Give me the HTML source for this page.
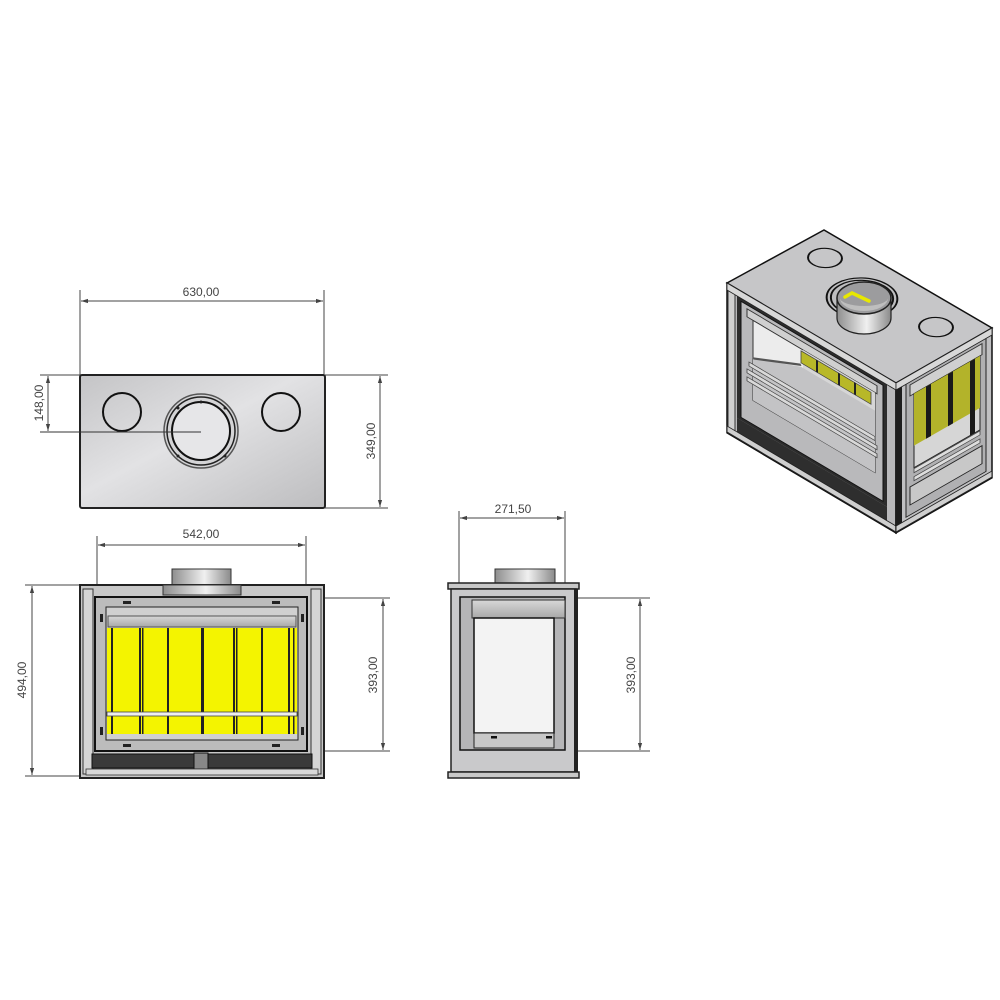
<!DOCTYPE html>
<html><head><meta charset="utf-8"><style>html,body{margin:0;padding:0;background:#fff}svg{display:block}</style></head>
<body>
<svg width="1000" height="1000" viewBox="0 0 1000 1000" xmlns="http://www.w3.org/2000/svg" font-family="Liberation Sans, sans-serif">
<defs>
<linearGradient id="gTop" x1="0" y1="0" x2="1" y2="1"><stop offset="0" stop-color="#c4c4c6"/><stop offset="0.45" stop-color="#e2e2e4"/><stop offset="1" stop-color="#bdbdbf"/></linearGradient>
<linearGradient id="gFlue" x1="0" y1="0" x2="1" y2="0"><stop offset="0" stop-color="#8e8e8e"/><stop offset="0.55" stop-color="#f0f0f0"/><stop offset="1" stop-color="#8a8a8a"/></linearGradient>
<linearGradient id="gBar" x1="0" y1="0" x2="0" y2="1"><stop offset="0" stop-color="#d8d8d8"/><stop offset="1" stop-color="#a8a8a8"/></linearGradient>
<marker id="ar" viewBox="0 0 10 10" refX="10" refY="5" markerWidth="7" markerHeight="7" orient="auto-start-reverse"><path d="M0,2 L10,5 L0,8 z" fill="#444"/></marker>
</defs>
<g stroke="#444" stroke-width="1" fill="none">
<!-- top view dims -->
<line x1="80" y1="290" x2="80" y2="376"/><line x1="324" y1="290" x2="324" y2="376"/>
<line x1="81" y1="301" x2="323" y2="301" marker-start="url(#ar)" marker-end="url(#ar)"/>
<line x1="40" y1="375" x2="80" y2="375"/><line x1="40" y1="432" x2="201" y2="432"/>
<line x1="48" y1="376" x2="48" y2="431" marker-start="url(#ar)" marker-end="url(#ar)"/>
<line x1="325" y1="375" x2="388" y2="375"/><line x1="325" y1="508" x2="388" y2="508"/>
<line x1="380" y1="376" x2="380" y2="507" marker-start="url(#ar)" marker-end="url(#ar)"/>
<!-- front dims -->
<line x1="97" y1="536" x2="97" y2="600"/><line x1="306" y1="536" x2="306" y2="600"/>
<line x1="98" y1="545" x2="305" y2="545" marker-start="url(#ar)" marker-end="url(#ar)"/>
<line x1="25" y1="585" x2="80" y2="585"/><line x1="25" y1="776" x2="80" y2="776"/>
<line x1="32" y1="586" x2="32" y2="775" marker-start="url(#ar)" marker-end="url(#ar)"/>
<line x1="310" y1="598" x2="390" y2="598"/><line x1="310" y1="751" x2="390" y2="751"/>
<line x1="383" y1="599" x2="383" y2="750" marker-start="url(#ar)" marker-end="url(#ar)"/>
<!-- side dims -->
<line x1="459" y1="511" x2="459" y2="600"/><line x1="565" y1="511" x2="565" y2="600"/>
<line x1="460" y1="518" x2="564" y2="518" marker-start="url(#ar)" marker-end="url(#ar)"/>
<line x1="565" y1="598" x2="650" y2="598"/><line x1="565" y1="751" x2="650" y2="751"/>
<line x1="640" y1="599" x2="640" y2="750" marker-start="url(#ar)" marker-end="url(#ar)"/>
</g>
<g fill="#444" font-size="12" text-anchor="middle">
<text x="201" y="296">630,00</text>
<text x="201" y="538">542,00</text>
<text x="513" y="513">271,50</text>
<text transform="translate(43,403) rotate(-90)">148,00</text>
<text transform="translate(375,441) rotate(-90)">349,00</text>
<text transform="translate(26,680) rotate(-90)">494,00</text>
<text transform="translate(377,675) rotate(-90)">393,00</text>
<text transform="translate(635,675) rotate(-90)">393,00</text>
</g>

<!-- TOP VIEW -->
<rect x="80" y="375" width="245" height="133" rx="2" fill="url(#gTop)" stroke="#222" stroke-width="2"/>
<line x1="40" y1="432" x2="201" y2="432" stroke="#333" stroke-width="1"/>
<circle cx="122" cy="412" r="19" fill="none" stroke="#111" stroke-width="2"/>
<circle cx="281" cy="412" r="19" fill="none" stroke="#111" stroke-width="2"/>
<circle cx="201" cy="431" r="37" fill="#d4d4d6" stroke="#555" stroke-width="1.5"/>
<circle cx="201" cy="431" r="34" fill="none" stroke="#222" stroke-width="1.5"/>
<circle cx="201" cy="431" r="29" fill="#e6e6e8" stroke="#111" stroke-width="2"/>
<line x1="40" y1="432" x2="201" y2="432" stroke="#333" stroke-width="1"/>
<g fill="#222"><circle cx="178" cy="408" r="1.5"/><circle cx="225" cy="408" r="1.5"/><circle cx="178" cy="456" r="1.5"/><circle cx="225" cy="456" r="1.5"/><circle cx="201" cy="402" r="1.5"/></g>

<!-- FRONT VIEW -->
<rect x="172" y="569" width="59" height="17" fill="url(#gFlue)" stroke="#333"/>
<rect x="80" y="585" width="244" height="193" fill="#c8c8c8" stroke="#222" stroke-width="2"/>
<rect x="83" y="589" width="10" height="185" fill="#d5d5d5" stroke="#333"/>
<rect x="311" y="589" width="10" height="185" fill="#d5d5d5" stroke="#333"/>
<rect x="163" y="585" width="78" height="10" fill="url(#gFlue)" stroke="#333"/>
<rect x="95" y="597" width="212" height="154" fill="#bcbcbc" stroke="#111" stroke-width="2"/>
<rect x="106" y="607" width="192" height="133" fill="#d0d0d0" stroke="#222"/>
<rect x="108" y="616" width="188" height="11" fill="url(#gBar)" stroke="#555"/>
<rect x="107" y="628" width="190" height="106" fill="#f4f400"/>
<g fill="#222">
<rect x="111" y="628" width="2" height="106"/><rect x="139" y="628" width="2" height="106"/><rect x="142" y="628" width="1.5" height="106"/>
<rect x="167" y="628" width="2" height="106"/><rect x="201" y="628" width="3" height="106"/><rect x="233" y="628" width="2" height="106"/>
<rect x="236" y="628" width="1.5" height="106"/><rect x="261" y="628" width="2" height="106"/><rect x="288" y="628" width="2" height="106"/><rect x="293" y="628" width="1.5" height="106"/>
<rect x="123" y="601" width="8" height="3"/><rect x="272" y="601" width="8" height="3"/><rect x="123" y="744" width="8" height="3"/><rect x="272" y="744" width="8" height="3"/>
<rect x="100" y="614" width="3" height="8"/><rect x="301" y="614" width="3" height="8"/><rect x="100" y="727" width="3" height="8"/><rect x="301" y="727" width="3" height="8"/>
</g>
<rect x="107" y="712" width="190" height="4" fill="#eee" stroke="#444" stroke-width="0.8"/>
<rect x="92" y="754" width="220" height="14" fill="#3a3a3a" stroke="#111"/>
<rect x="194" y="753" width="14" height="16" fill="#888" stroke="#111"/>
<rect x="86" y="769" width="232" height="6" fill="#d8d8d8" stroke="#333" stroke-width="0.8"/>

<!-- SIDE VIEW -->
<rect x="495" y="569" width="60" height="15" fill="url(#gFlue)" stroke="#333"/>
<rect x="448" y="583" width="131" height="6" fill="#c8c8c8" stroke="#222" stroke-width="1.5"/>
<rect x="451" y="589" width="125" height="183" fill="#c9c9cb" stroke="#222" stroke-width="1.5"/>
<rect x="460" y="597" width="105" height="153" fill="#b5b5b7" stroke="#111" stroke-width="1.5"/>
<rect x="472" y="600" width="93" height="18" fill="url(#gBar)" stroke="#333"/>
<rect x="474" y="618" width="80" height="115" fill="#f3f3f3" stroke="#111" stroke-width="1.5"/>
<rect x="474" y="733" width="80" height="15" fill="#c8c8c8" stroke="#222"/>
<rect x="491" y="736" width="6" height="2.5" fill="#111"/><rect x="546" y="736" width="6" height="2.5" fill="#111"/>
<rect x="448" y="772" width="131" height="6" fill="#c8c8c8" stroke="#222" stroke-width="1.5"/>
<rect x="574" y="589" width="4" height="183" fill="#222"/>

<!-- 3D VIEW -->
<!-- front (left long) face -->
<g transform="matrix(1,0.592,0,1,727,283)">
<rect x="0" y="0" width="169" height="150" fill="#b9b9bb" stroke="#111" stroke-width="1.5"/>
<rect x="1" y="3" width="7" height="143" fill="#d0d0d0" stroke="#333"/>
<rect x="10" y="7" width="150" height="122" fill="#2c2c2c"/>
<rect x="14" y="10" width="142" height="116" fill="#b9b9bb" stroke="#111"/>
<rect x="20" y="14" width="130" height="8" fill="#d0d0d0" stroke="#333"/>
<rect x="26" y="22" width="122" height="80" fill="#ececec" stroke="#333"/>
<rect x="76" y="22" width="72" height="28" fill="#d6d6d6"/>
<rect x="74" y="24" width="70" height="12" fill="#b8b828" stroke="#444" stroke-width="0.8"/>
<line x1="90" y1="24" x2="90" y2="36" stroke="#222" stroke-width="2"/><line x1="112" y1="24" x2="112" y2="36" stroke="#222" stroke-width="2"/><line x1="128" y1="24" x2="128" y2="36" stroke="#222" stroke-width="2"/>
<polygon points="26,60 74,40 148,40 148,102 26,102" fill="#c3c3c5"/>
<line x1="26" y1="60" x2="74" y2="38" stroke="#555" stroke-width="2"/>
<rect x="22" y="66" width="126" height="4" fill="#d8d8d8" stroke="#444" stroke-width="0.8"/>
<rect x="20" y="74" width="130" height="4" fill="#d8d8d8" stroke="#444" stroke-width="0.8"/>
<rect x="20" y="82" width="130" height="4" fill="#d8d8d8" stroke="#444" stroke-width="0.8"/>
<rect x="10" y="129" width="150" height="14" fill="#2e2e2e"/>
<rect x="0" y="143" width="169" height="6" fill="#cfcfcf" stroke="#222"/>
</g>
<!-- right face -->
<g transform="matrix(1,-0.573,0,1,896,383)">
<rect x="0" y="0" width="96" height="150" fill="#c0c0c2" stroke="#111" stroke-width="1.5"/>
<rect x="0" y="0" width="6" height="150" fill="#1e1e1e"/>
<rect x="10" y="6" width="80" height="134" fill="#b0b0b2" stroke="#222"/>
<rect x="14" y="10" width="72" height="11" fill="#d0d0d0" stroke="#333"/>
<rect x="18" y="21" width="66" height="74" fill="#d6d6d6" stroke="#222"/>
<rect x="18" y="21" width="66" height="52" fill="#b3b32a"/>
<rect x="30" y="21" width="5" height="52" fill="#1a1a1a"/><rect x="52" y="21" width="5" height="52" fill="#1a1a1a"/><rect x="74" y="21" width="5" height="74" fill="#1a1a1a"/>
<rect x="18" y="96" width="66" height="4" fill="#ddd" stroke="#444" stroke-width="0.8"/>
<rect x="18" y="104" width="66" height="4" fill="#ddd" stroke="#444" stroke-width="0.8"/>
<rect x="14" y="112" width="72" height="18" fill="#c8c8c8" stroke="#222"/>
<rect x="0" y="143" width="96" height="6" fill="#cfcfcf" stroke="#222"/>
</g>
<!-- top face -->
<polygon points="727,283 824,230 992,328 896,383" fill="#c6c6c8" stroke="#111" stroke-width="1.5"/>
<polygon points="727,283 727,290 896,390 896,383" fill="#d8d8d8" stroke="#222" stroke-width="0.8"/>
<polygon points="896,383 992,328 992,335 896,390" fill="#d8d8d8" stroke="#222" stroke-width="0.8"/>
<g transform="matrix(1,0.592,1,-0.546,727,283)" fill="none" stroke="#111" stroke-width="1.4">
<circle cx="25" cy="73" r="12"/>
<circle cx="139" cy="70" r="12"/>
<circle cx="78" cy="57" r="25" fill="#bdbdbf"/>
<circle cx="78" cy="57" r="22"/>
</g>
<path d="M837,298 L837,318 A27,16 0 0 0 891,318 L891,298 Z" fill="url(#gFlue)" stroke="#222" stroke-width="1.2"/>
<ellipse cx="864" cy="298" rx="27" ry="16" fill="#9c9c9e" stroke="#222" stroke-width="1.5"/>
<path d="M840,298 A24,13 0 0 0 888,298 A24,8 0 0 1 840,298Z" fill="#bebebe"/>
<path d="M845,297 L852,293 L869,301" fill="none" stroke="#e8e800" stroke-width="3.5" stroke-linecap="round"/>
</svg>
</body></html>
